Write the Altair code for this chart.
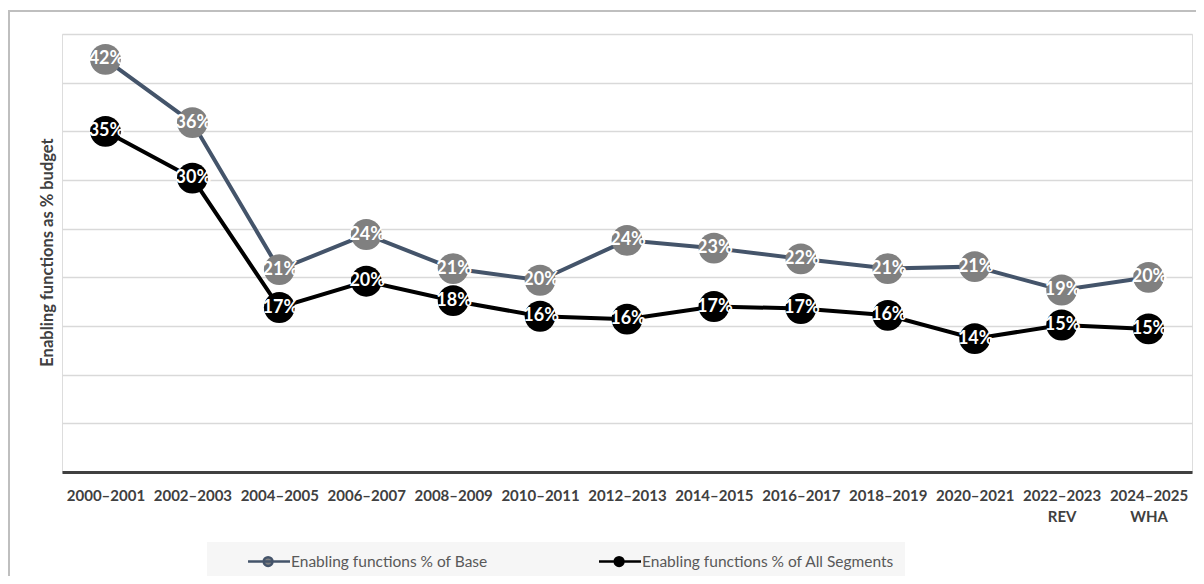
import altair as alt
import pandas as pd

periods = ["2000–2001", "2002–2003", "2004–2005", "2006–2007", "2008–2009",
           "2010–2011", "2012–2013", "2014–2015", "2016–2017", "2018–2019",
           "2020–2021", "2022–2023 REV", "2024–2025 WHA"]
base_pct = [42.4, 35.9, 20.8, 24.4, 20.9, 19.7, 23.8, 23.0, 21.9, 20.9, 21.1, 18.7, 20.0]
all_pct = [35.0, 30.2, 16.9, 19.6, 17.6, 16.0, 15.7, 17.0, 16.8, 16.1, 13.7, 15.1, 14.7]
series_names = ["Enabling functions % of Base", "Enabling functions % of All Segments"]
line_colors = ["#44546A", "#000000"]
dot_colors = ["#808080", "#000000"]
grid_values = [0, 5, 10, 15, 20, 25, 30, 35, 40, 45]

rows = []
for p, b, a in zip(periods, base_pct, all_pct):
    rows.append({"period": p, "series": series_names[0], "value": b})
    rows.append({"period": p, "series": series_names[1], "value": a})
df = pd.DataFrame(rows)

FONT = "Lato"
sym_path = ("M2.69,0L7.94,0 "
            "M4.65,0A0.55,0.55 0 1,1 5.75,0A0.55,0.55 0 1,1 4.65,0Z")

legend = alt.Legend(
    title=None, orient="none", legendX=145, legendY=508, direction="horizontal",
    symbolType=sym_path, symbolSize=256, symbolStrokeWidth=2.5, symbolOpacity=1,
    labelOffset=55, labelFont=FONT, labelFontSize=15.5, labelColor="#595959",
    labelLimit=0, padding=10, fillColor="#f6f6f6", columnPadding=80,
)

x_enc = alt.X(
    "period:N", sort=periods, title=None,
    axis=alt.Axis(
        labelAngle=0, labelFont=FONT, labelFontSize=15, labelFontWeight="bold",
        labelColor="#404040", labelPadding=16, labelLineHeight=21,
        labelExpr="split(datum.label, ' ')", ticks=False, grid=False,
        domainColor="#404040", domainWidth=3, labelBaseline="top",
    ),
)
y_enc = alt.Y(
    "value:Q", scale=alt.Scale(domain=[0, 45], nice=False, zero=True),
    axis=alt.Axis(
        values=grid_values, labels=False, ticks=False, domain=False,
        gridColor="#D9D9D9", gridWidth=1.5,
        title="Enabling functions  as % budget", titleFont=FONT, titleFontSize=16.5,
        titleFontWeight="bold", titleColor="#404040", titleAngle=270,
        titleX=-15, titleY=218, titleAlign="center", titleBaseline="middle",
    ),
)

base = alt.Chart(df)

line_layers = [
    base.transform_filter(alt.datum.series == name).mark_line(strokeWidth=4, color=col).encode(x=x_enc, y=y_enc)
    for name, col in zip(series_names, line_colors)
]

dots = base.mark_circle(size=950, opacity=1, strokeWidth=0).encode(
    x=x_enc, y=y_enc,
    fill=alt.Fill("series:N", scale=alt.Scale(domain=series_names, range=dot_colors), legend=legend),
    stroke=alt.Stroke("series:N", scale=alt.Scale(domain=series_names, range=line_colors), legend=legend),
)

labels = base.transform_calculate(
    label="format(datum.value, '.0f') + '%'"
).mark_text(font=FONT, fontWeight="bold", fontSize=18, color="white", baseline="middle", dx=1).encode(
    x=x_enc, y=y_enc, text="label:N",
)

frame = alt.Chart(pd.DataFrame({"k": [0]})).mark_rect(
    fill=None, stroke="#BFBFBF", strokeWidth=2
).encode(x=alt.value(-53), x2=alt.value(1200), y=alt.value(-23), y2=alt.value(700))

chart = alt.layer(frame, *line_layers, dots, labels).properties(
    width=1130, height=438,
    autosize=alt.AutoSizeParams(type="none"),
    padding={"left": 54, "top": 26, "right": 4, "bottom": 104},
).configure_view(stroke=None).configure(font=FONT)

chart.save("out.html", embed_options={"renderer": "svg", "actions": False})
